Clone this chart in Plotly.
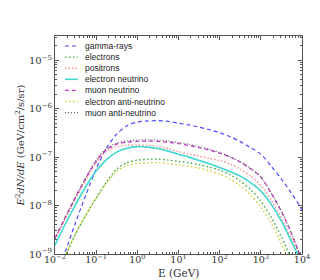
import plotly.graph_objects as go

# ---- data ----
energy = [0.01, 0.0178, 0.0316, 0.0562, 0.1, 0.178, 0.316, 0.562, 1.0, 1.78, 3.16, 5.62,
          10.0, 17.8, 31.6, 56.2, 100.0, 178.0, 316.0, 562.0, 1000.0, 1778.0, 3162.0,
          5623.0, 7943.0, 8913.0, 10000.0]

gamma_rays = [3.20e-10, 1.13e-9, 4.46e-9, 1.66e-8, 5.66e-8, 1.56e-7, 2.98e-7, 4.46e-7, 5.27e-7,
              5.58e-7, 5.66e-7, 5.45e-7, 5.02e-7, 4.61e-7, 4.16e-7, 3.69e-7, 3.20e-7, 2.65e-7,
              2.09e-7, 1.57e-7, 1.15e-7, 6.52e-8, 3.52e-8, 1.77e-8, 1.13e-8, 9.54e-9, 8.07e-9]
electrons = [2.91e-10, 9.09e-10, 2.58e-9, 6.37e-9, 1.43e-8, 3.05e-8, 5.66e-8, 7.70e-8, 8.67e-8,
             9.01e-8, 9.10e-8, 8.67e-8, 8.15e-8, 7.59e-8, 7.00e-8, 6.22e-8, 5.40e-8, 4.36e-8,
             3.20e-8, 2.14e-8, 1.24e-8, 5.79e-9, 2.24e-9, 7.52e-10, 3.20e-10, 1.99e-10, 7.7e-11]
positrons = [1.94e-9, 5.27e-9, 1.36e-8, 3.36e-8, 7.70e-8, 1.33e-7, 1.65e-7, 1.77e-7, 1.78e-7,
             1.75e-7, 1.65e-7, 1.50e-7, 1.30e-7, 1.16e-7, 1.05e-7, 9.45e-8, 8.47e-8, 7.17e-8,
             5.66e-8, 4.06e-8, 2.58e-8, 1.30e-8, 5.52e-9, 2.04e-9, 1.05e-9, 7.52e-10, 2.52e-10]
electron_neutrino = [1.53e-9, 4.16e-9, 1.05e-8, 2.47e-8, 5.14e-8, 8.88e-8, 1.27e-7, 1.53e-7,
                     1.65e-7, 1.61e-7, 1.50e-7, 1.33e-7, 1.15e-7, 1.00e-7, 8.55e-8, 7.28e-8,
                     6.13e-8, 5.07e-8, 4.06e-8, 2.98e-8, 1.99e-8, 1.07e-8, 4.79e-9, 1.77e-9,
                     9.54e-10, 7.17e-10, 2.52e-10]
muon_neutrino = [2.14e-9, 5.79e-9, 1.50e-8, 3.69e-8, 8.27e-8, 1.43e-7, 1.85e-7, 2.04e-7, 2.11e-7,
                 2.14e-7, 2.11e-7, 2.02e-7, 1.90e-7, 1.74e-7, 1.57e-7, 1.39e-7, 1.21e-7, 1.00e-7,
                 7.89e-8, 5.79e-8, 3.87e-8, 1.81e-8, 7.52e-9, 2.58e-9, 1.21e-9, 9.09e-10, 3.20e-10]
electron_anti_neutrino = [3.20e-10, 9.54e-10, 2.65e-9, 6.4e-9, 1.39e-8, 2.91e-8, 5.14e-8, 6.68e-8,
                          7.35e-8, 7.63e-8, 7.70e-8, 7.35e-8, 6.94e-8, 6.46e-8, 5.93e-8, 5.19e-8,
                          4.46e-8, 3.52e-8, 2.58e-8, 1.65e-8, 9.31e-9, 4.36e-9, 1.61e-9, 5.15e-10,
                          1.99e-10, 1.24e-10, 7.7e-11]
muon_anti_neutrino = [2.09e-9, 5.66e-9, 1.50e-8, 3.78e-8, 8.67e-8, 1.50e-7, 1.94e-7, 2.16e-7,
                      2.24e-7, 2.27e-7, 2.24e-7, 2.14e-7, 2.01e-7, 1.84e-7, 1.65e-7, 1.45e-7,
                      1.25e-7, 1.02e-7, 8.04e-8, 5.85e-8, 3.91e-8, 1.83e-8, 7.6e-9, 2.6e-9,
                      1.22e-9, 9.2e-10, 3.2e-10]

series_names = ["gamma-rays", "electrons", "positrons", "electron neutrino", "muon neutrino",
                "electron anti-neutrino", "muon anti-neutrino"]
series_values = [gamma_rays, electrons, positrons, electron_neutrino, muon_neutrino,
                 electron_anti_neutrino, muon_anti_neutrino]

x_tick_vals = [1e-2, 1e-1, 1e0, 1e1, 1e2, 1e3, 1e4]
x_tick_text = ["10<sup>−2</sup>", "10<sup>−1</sup>", "10<sup>0</sup>", "10<sup>1</sup>",
               "10<sup>2</sup>", "10<sup>3</sup>", "10<sup>4</sup>"]
y_tick_vals = [1e-9, 1e-8, 1e-7, 1e-6, 1e-5]
y_tick_text = ["10<sup>−9</sup>", "10<sup>−8</sup>", "10<sup>−7</sup>", "10<sup>−6</sup>",
               "10<sup>−5</sup>"]

# ---- styles ----
styles = [
    dict(color="#4b4bff", width=1.2, dash="4px,3px"),
    dict(color="#3aa83a", width=1.4, dash="1.5px,2.5px"),
    dict(color="#ff8f8f", width=1.4, dash="1.5px,2px"),
    dict(color="#3fd8cf", width=1.6, dash="solid"),
    dict(color="#c93bc9", width=1.3, dash="4px,3px"),
    dict(color="#cfcf2a", width=1.4, dash="1.5px,2.5px"),
    dict(color="#555555", width=1.1, dash="1px,2px"),
]

fig = go.Figure()
for name, vals, st in zip(series_names, series_values, styles):
    fig.add_trace(go.Scatter(x=energy, y=vals, mode="lines", name=name,
                             line=dict(color=st["color"], width=st["width"], dash=st["dash"],
                                       shape="spline", smoothing=0.8),
                             showlegend=False, hoverinfo="skip"))

# ---- custom legend (layout only) ----
L, T, W, H = 45, 28, 249, 218
def px2paper(px, py):
    return (px - L) / W, (T + H - py) / H

for i, (name, st) in enumerate(zip(series_names, styles)):
    py = 38 + 11.1 * i
    x0, y0 = px2paper(55, py)
    x1, _ = px2paper(68, py)
    xt, _ = px2paper(73, py)
    fig.add_shape(type="line", xref="paper", yref="paper", x0=x0, x1=x1, y0=y0, y1=y0,
                  line=dict(color=st["color"], width=st["width"], dash=st["dash"]))
    fig.add_annotation(xref="paper", yref="paper", x=xt, y=y0, text=name, showarrow=False,
                       xanchor="left", yanchor="middle",
                       font=dict(family="Liberation Sans, Arial, sans-serif", size=8.5,
                                 color="#222222"))

# x-axis title
_, yt = px2paper(0, 265)
fig.add_annotation(xref="paper", yref="paper", x=0.5, y=yt, text="E (GeV)", showarrow=False,
                   xanchor="center", yanchor="middle",
                   font=dict(family="DejaVu Serif, serif", size=10.5, color="#333333"))

def minor_vals(lo, hi):
    out = []
    for e in range(lo, hi):
        for m in range(2, 10):
            out.append(m * 10 ** e)
    return out

axis_common = dict(type="log", showline=True, linecolor="#555555", linewidth=1,
                   mirror="allticks", ticks="inside", ticklen=4, tickcolor="#555555",
                   showgrid=False, zeroline=False,
                   tickfont=dict(family="DejaVu Serif, serif", size=10, color="#333333"))

fig.update_xaxes(range=[-2, 4], tickvals=x_tick_vals, ticktext=x_tick_text,
                 ticklabelstandoff=-3,
                 minor=dict(tickvals=minor_vals(-2, 4), ticks="inside", ticklen=2,
                            tickcolor="#555555"),
                 **axis_common)
fig.update_xaxes(tickfont=dict(family="DejaVu Serif, serif", size=9.5, color="#333333"))
fig.update_yaxes(range=[-9, -4.5], tickvals=y_tick_vals, ticktext=y_tick_text,
                 minor=dict(tickvals=minor_vals(-9, -4), ticks="inside", ticklen=2,
                            tickcolor="#555555"),
                 title=dict(text="<i>E</i><sup>2</sup><i>dN/dE</i> (GeV/cm<sup>2</sup>/s/sr)",
                            standoff=2,
                            font=dict(family="DejaVu Serif, serif", size=10, color="#333333")),
                 **axis_common)

fig.update_layout(width=320, height=280, margin=dict(l=45, r=26, t=28, b=34),
                  paper_bgcolor="white", plot_bgcolor="white")

fig.write_html("out.html")
